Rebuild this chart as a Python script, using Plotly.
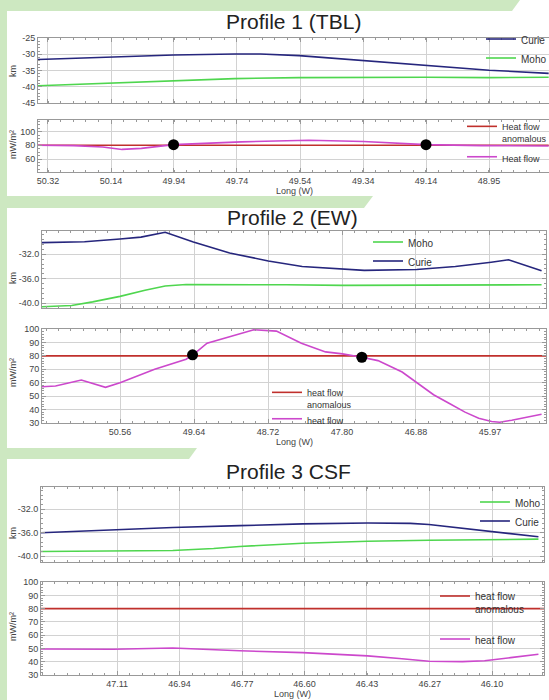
import plotly.graph_objects as go

W, H = 549, 700

# ---------------- Data ----------------
# Profile 1 (TBL)
p1_curie_lon = [50.351, 50.14, 49.93, 49.74, 49.66, 49.54, 49.34, 49.146, 48.95, 48.765]
p1_curie = [-31.6, -30.9, -30.2, -29.9, -29.9, -30.4, -31.9, -33.4, -34.9, -35.9]
p1_moho_lon = [50.351, 50.14, 49.93, 49.74, 49.54, 49.34, 49.146, 48.95, 48.765]
p1_moho = [-39.7, -39.0, -38.3, -37.5, -37.2, -37.1, -37.1, -37.2, -37.1]
p1_hf_lon = [50.351, 50.24, 50.15, 50.09, 50.03, 49.93, 49.72, 49.51, 49.34, 49.146, 48.975, 48.765]
p1_hf = [80, 79.5, 77.5, 74, 75.5, 81, 85, 87.5, 85.5, 81, 79.5, 79]
p1_anom_lon = [50.351, 48.765]
p1_anom = [80, 80]
p1_dot_lon = [49.93, 49.146]
p1_dot = [81, 81]
p1_xticks = [50.32, 50.124, 49.929, 49.733, 49.537, 49.341, 49.146, 48.95]
p1_xlabels = ["50.32", "50.14", "49.94", "49.74", "49.54", "49.34", "49.14", "48.95"]
p1_km_ticks = [-25, -30, -35, -40, -45]
p1_km_labels = ["-25", "-30", "-35", "-40", "-45"]
p1_hf_ticks = [100, 80, 60]
p1_hf_labels = ["100", "80", "60"]

# Profile 2 (EW)
p2_curie_lon = [51.53, 51.0, 50.56, 50.3, 50.0, 49.65, 49.2, 48.72, 48.3, 47.8, 47.53, 46.88, 46.4, 45.955, 45.74, 45.33]
p2_curie = [-30.1, -29.95, -29.5, -29.2, -28.4, -30.0, -31.8, -33.1, -34.0, -34.5, -34.65, -34.5, -34.0, -33.3, -32.9, -34.7]
p2_moho_lon = [51.53, 51.36, 51.16, 50.9, 50.56, 50.25, 50.0, 49.74, 49.2, 48.5, 47.8, 47.0, 46.0, 45.33]
p2_moho = [-40.6, -40.55, -40.4, -39.8, -38.9, -37.9, -37.2, -36.95, -36.95, -37.0, -37.1, -37.1, -37.0, -37.0]
p2_hf_lon = [51.53, 51.36, 51.04, 50.74, 50.56, 50.13, 49.74, 49.64, 49.48, 49.09, 48.90, 48.62, 48.31,
             48.01, 47.80, 47.56, 47.36, 47.06, 46.88, 46.67, 46.49, 46.28, 46.11, 45.95, 45.85, 45.70, 45.33]
p2_hf = [57, 57.5, 62, 56.5, 60, 70, 77.5, 81.5, 89.5, 96.5, 99.5, 98.5, 89.5,
         83, 81.5, 79, 76.5, 68, 60, 51, 45, 38, 33.5, 31, 30.5, 32, 36.5]
p2_anom_lon = [51.528, 45.275]
p2_anom = [80, 80]
p2_dot_lon = [49.66, 47.56]
p2_dot = [80.8, 79]
p2_xticks = [50.56, 49.642, 48.724, 47.806, 46.888, 45.97]
p2_xlabels = ["50.56", "49.64", "48.72", "47.80", "46.88", "45.97"]
p2_km_ticks = [-32, -36, -40]
p2_km_labels = ["-32.0", "-36.0", "-40.0"]
hf_ticks = [100, 90, 80, 70, 60, 50, 40, 30]
hf_labels = ["100", "90", "80", "70", "60", "50", "40", "30"]

# Profile 3 CSF
p3_curie_lon = [47.315, 47.12, 46.96, 46.78, 46.61, 46.435, 46.32, 46.27, 46.10, 45.975]
p3_curie = [-36.0, -35.5, -35.1, -34.8, -34.5, -34.35, -34.4, -34.6, -35.8, -36.7]
p3_moho_lon = [47.315, 47.12, 46.96, 46.85, 46.78, 46.61, 46.435, 46.27, 46.10, 45.975]
p3_moho = [-39.2, -39.15, -39.05, -38.7, -38.35, -37.8, -37.45, -37.3, -37.15, -37.1]
p3_hf_lon = [47.315, 47.12, 46.96, 46.78, 46.61, 46.435, 46.35, 46.27, 46.18, 46.12, 46.05, 45.975]
p3_hf = [49.5, 49.3, 50.3, 48.2, 46.8, 44.3, 42.3, 40.3, 40.0, 40.6, 43.0, 45.5]
p3_anom_lon = [47.315, 45.96]
p3_anom = [80, 80]
p3_xticks = [47.11, 46.942, 46.773, 46.605, 46.437, 46.268, 46.10]
p3_xlabels = ["47.11", "46.94", "46.77", "46.60", "46.43", "46.27", "46.10"]
p3_km_ticks = [-32, -36, -40]
p3_km_labels = ["-32.0", "-36.0", "-40.0"]

# ---------------- Styling ----------------
CURIE = "#26267d"
MOHO = "#4fd64f"
HF = "#cc48cc"
ANOM = "#c0302c"
GREEN_BG = "#cde8c1"
GRID = "#d2d2d2"
FRAME = "#999999"
TXT = "#444444"
FONT = "Arial, Liberation Sans, sans-serif"


def px(x):
    return x / W


def py(y):
    return 1 - y / H


def xdom(l, r):
    return [px(l), min(1.0, px(r))]


def ydom(t, b):
    return [py(b), py(t)]


def xaxis(domain, rng, tv, tt, labels, mtick0, mdtick, anchor):
    return dict(domain=domain, range=rng, anchor=anchor, tickmode="array", tickvals=tv, ticktext=tt,
                showticklabels=labels, showgrid=True, gridcolor=GRID, gridwidth=1, zeroline=False,
                showline=True, linecolor=FRAME, linewidth=1, mirror="ticks", ticks="inside", ticklen=4,
                tickcolor=FRAME, tickfont=dict(size=9, color=TXT, family=FONT), automargin=False,
                minor=dict(ticks="inside", ticklen=2, tickcolor=FRAME, tick0=mtick0, dtick=mdtick, showgrid=False))


def yaxis(domain, rng, tv, tt, mdtick, anchor, mirror="ticks"):
    return dict(domain=domain, range=rng, anchor=anchor, tickmode="array", tickvals=tv, ticktext=tt,
                showgrid=True, gridcolor=GRID, gridwidth=1, zeroline=False,
                showline=True, linecolor=FRAME, linewidth=1, mirror=mirror, ticks="inside", ticklen=4,
                tickcolor=FRAME, tickfont=dict(size=9, color=TXT, family=FONT), automargin=False,
                minor=dict(ticks="inside", ticklen=2, tickcolor=FRAME, dtick=mdtick, showgrid=False))


fig = go.Figure()


def line(xs, ys, color, name, xa, ya, legend, group, width=1.6, show=True):
    fig.add_trace(go.Scatter(x=xs, y=ys, mode="lines", name=name, line=dict(color=color, width=width),
                             xaxis=xa, yaxis=ya, legend=legend, legendgroup=group, showlegend=show,
                             hoverinfo="skip"))


def dots(xs, ys, xa, ya):
    fig.add_trace(go.Scatter(x=xs, y=ys, mode="markers", marker=dict(color="black", size=11),
                             xaxis=xa, yaxis=ya, showlegend=False, hoverinfo="skip"))


# Panel 1
line(p1_curie_lon, p1_curie, CURIE, "Curie", "x", "y", "legend", "a")
line(p1_moho_lon, p1_moho, MOHO, "Moho", "x", "y", "legend", "b")
line(p1_anom_lon, p1_anom, ANOM, "Heat flow<br>anomalous", "x2", "y2", "legend2", "c")
line(p1_hf_lon, p1_hf, HF, "Heat flow", "x2", "y2", "legend2", "d")
dots(p1_dot_lon, p1_dot, "x2", "y2")

# Panel 2
line(p2_moho_lon, p2_moho, MOHO, "Moho", "x3", "y3", "legend3", "e")
line(p2_curie_lon, p2_curie, CURIE, "Curie", "x3", "y3", "legend3", "f")
line(p2_anom_lon, p2_anom, ANOM, "heat flow<br>anomalous", "x4", "y4", "legend4", "g")
line(p2_hf_lon, p2_hf, HF, "heat flow", "x4", "y4", "legend4", "h")
dots(p2_dot_lon, p2_dot, "x4", "y4")

# Panel 3
line(p3_moho_lon, p3_moho, MOHO, "Moho", "x5", "y5", "legend5", "i")
line(p3_curie_lon, p3_curie, CURIE, "Curie", "x5", "y5", "legend5", "j")
line(p3_anom_lon, p3_anom, ANOM, "heat flow<br>anomalous", "x6", "y6", "legend6", "k")
line(p3_hf_lon, p3_hf, HF, "heat flow", "x6", "y6", "legend6", "l")

r1 = [50.351, 48.764]
r2 = [51.528, 45.275]
r3 = [47.315, 45.960]

layout = dict(
    width=W, height=H, margin=dict(l=0, r=0, t=0, b=0, pad=0, autoexpand=False),
    paper_bgcolor="white", plot_bgcolor="white",
    font=dict(family=FONT, color=TXT, size=9),
    xaxis=xaxis(xdom(38, 549), r1, p1_xticks, p1_xlabels, False, 50.124, 0.0391, "y"),
    yaxis=yaxis(ydom(38, 103), [-45.05, -24.95], p1_km_ticks, p1_km_labels, 1, "x", mirror=False),
    xaxis2=xaxis(xdom(38, 549), r1, p1_xticks, p1_xlabels, True, 50.124, 0.0391, "y2"),
    yaxis2=yaxis(ydom(120, 172), [41, 117], p1_hf_ticks, p1_hf_labels, 5, "x2", mirror=False),
    xaxis3=xaxis(xdom(42, 546), r2, p2_xticks, p2_xlabels, False, 45.97, 0.918 / 6, "y3"),
    yaxis3=yaxis(ydom(231, 308), [-40.8, -28.2], p2_km_ticks, p2_km_labels, 0.8, "x3"),
    xaxis4=xaxis(xdom(42, 546), r2, p2_xticks, p2_xlabels, True, 45.97, 0.918 / 6, "y4"),
    yaxis4=yaxis(ydom(329, 423), [29.9, 100.1], hf_ticks, hf_labels, 2, "x4"),
    xaxis5=xaxis(xdom(41, 544), r3, p3_xticks, p3_xlabels, False, 46.10, 0.03367, "y5"),
    yaxis5=yaxis(ydom(487, 562), [-41.0, -28.2], p3_km_ticks, p3_km_labels, 0.8, "x5"),
    xaxis6=xaxis(xdom(41, 544), r3, p3_xticks, p3_xlabels, True, 46.10, 0.03367, "y6"),
    yaxis6=yaxis(ydom(582, 675), [29.9, 100.1], hf_ticks, hf_labels, 2, "x6"),
)


def leg(x, y, gap=0, size=10):
    return dict(x=px(x), y=py(y), xanchor="left", yanchor="top", bgcolor="rgba(0,0,0,0)", borderwidth=0,
                font=dict(size=size, color="#333333", family=FONT), itemwidth=30, tracegroupgap=gap,
                valign="top")


layout["legend"] = leg(481, 26)
layout["legend2"] = leg(462, 114, 4, 9)
layout["legend3"] = leg(368, 229)
layout["legend4"] = leg(267, 380, 0, 9)
layout["legend5"] = leg(475, 489)
layout["legend6"] = leg(435, 583, 14)

shapes = [
    dict(type="rect", xref="paper", yref="paper", x0=0, x1=px(7), y0=0, y1=1,
         fillcolor=GREEN_BG, line=dict(width=0), layer="below"),
]


def band(top, bot, xr_top, xr_bot):
    return dict(type="path", xref="paper", yref="paper",
                path=f"M 0,{py(top)} L {px(xr_top)},{py(top)} L {px(xr_bot)},{py(bot)} L 0,{py(bot)} Z",
                fillcolor=GREEN_BG, line=dict(width=0), layer="below")


shapes.append(band(0, 11, 520, 512))
shapes.append(band(196, 208, 373, 364))
shapes.append(band(448, 459, 197, 189))
layout["shapes"] = shapes

ann = []


def text(x, y, s, size=9, angle=0, color=TXT):
    ann.append(dict(x=px(x), y=py(y), xref="paper", yref="paper", text=s, showarrow=False,
                    font=dict(size=size, color=color, family=FONT), textangle=angle,
                    xanchor="center", yanchor="middle"))


text(293, 21, "Profile 1 (TBL)", 21, color="#222222")
text(292, 218, "Profile 2 (EW)", 21, color="#222222")
text(288, 471, "Profile 3 CSF", 21, color="#222222")
text(13, 71, "km", 9, -90)
text(13, 145, "mW/m²", 9, -90)
text(13, 278, "km", 9, -90)
text(13, 373, "mW/m²", 9, -90)
text(13, 533, "km", 9, -90)
text(13, 627, "mW/m²", 9, -90)
text(294, 191, "Long (W)", 9)
text(294, 442, "Long (W)", 9)
text(292, 694, "Long (W)", 9)
layout["annotations"] = ann

fig.update_layout(**layout)
fig.write_html("out.html", config={"displayModeBar": False},
               post_script="document.body.style.margin='0px';document.body.style.overflow='hidden';")
